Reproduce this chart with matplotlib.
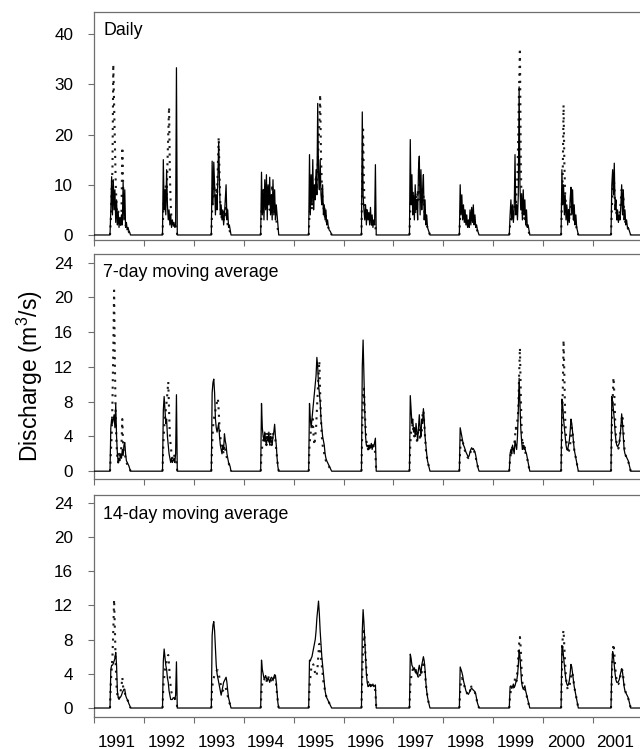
import matplotlib
matplotlib.use("Agg")
import matplotlib.pyplot as plt
from matplotlib.ticker import FixedLocator, NullFormatter, FixedFormatter

plt.rcParams['font.family'] = ['Liberation Sans', 'DejaVu Sans']
plt.rcParams['mathtext.fontset'] = 'custom'
plt.rcParams['mathtext.rm'] = 'Liberation Sans'
plt.rcParams['mathtext.it'] = 'Liberation Sans'

# ---------------- data ----------------
years = [1991, 1992, 1993, 1994, 1995, 1996, 1997, 1998, 1999, 2000, 2001]
year_labels = [str(y) for y in years]
season_start_doy = [117, 136, 128, 124, 110, 131, 117, 117, 117, 131, 131]
step_days = 6  # spacing of the read-off values within each flow season

panel_titles = ["Daily", "7-day moving average", "14-day moving average"]

daily_solid = [
    [0, 5, 11.6, 4, 11, 5, 9, 2.5, 7, 2, 4.5, 1.5, 3.5, 2, 4, 2, 10.5, 3, 9, 1.5, 2.5, 1, 1.5, 0.8, 0.5, 0],
    [0, 15, 5, 9, 4, 13, 6, 3, 5, 2, 4, 1.5, 3, 2, 2.5, 1.5, 2, 33.3, 0],
    [0, 14.7, 6, 14.5, 10, 4, 8, 5, 12, 18.5, 10, 4, 6, 3, 5, 2, 4, 7, 10, 3, 5, 1.5, 2, 1, 0],
    [0, 12.5, 4, 9, 3, 11, 5, 12, 3, 10, 6, 11.5, 4, 8, 3, 11, 4, 9, 3, 6, 4, 2, 0],
    [0, 16, 4, 12, 6, 15, 5, 10, 7, 13, 8, 26.2, 12, 9, 15, 8, 6, 10, 4, 6, 3, 5, 2, 3, 1.5, 1, 0.8, 0.5, 0],
    [0, 24.5, 8, 5, 3, 6, 2, 5, 3, 4.5, 2, 5.5, 2, 4, 1.5, 3, 2, 14, 0],
    [0, 19, 6, 12, 4, 8, 3, 10, 5, 7, 3, 13, 15.7, 4, 13, 5, 9, 12, 3, 7, 2, 4, 1.5, 1, 0.5, 0],
    [0, 10, 4, 8, 3, 6, 2.5, 5, 2, 4, 1.5, 3, 1.5, 5, 2, 5.5, 2.5, 6, 2, 4, 1.5, 2, 1, 0.5, 0],
    [0, 4, 7, 3, 6, 2.5, 5, 16, 4, 6, 3, 8, 29.5, 10, 5, 8, 3, 9, 4, 7, 2, 5, 1.5, 2, 1, 0],
    [0, 13, 6, 10, 4, 8, 3, 6, 2, 5, 2.5, 7, 9.5, 4, 9, 3, 6, 2, 4, 1.5, 0.8, 0],
    [0, 10, 13, 8, 14.3, 5, 7, 3, 5, 2.5, 4, 3, 6, 10, 4, 9, 3, 5, 2, 3, 1.5, 1.5, 1, 0.5, 0],
]
daily_dotted = [
    [0, 3, 9, 13, 34, 26, 18, 10, 6, 3, 5, 2, 3, 2, 4, 17.5, 10, 5, 3, 2, 1.5, 1, 1, 0.6, 0.3, 0],
    [0, 5, 8, 6, 10, 7, 14, 20, 25.5, 12, 6, 3, 2, 1.5, 2, 1.5, 2, 1, 0],
    [0, 5, 8, 10, 9, 7, 9, 8, 14, 19.5, 12, 6, 4, 3, 5, 3, 5, 4, 6, 3, 2, 1.5, 1, 0.5, 0],
    [0, 5, 7, 4, 9, 6, 8, 5, 10, 6, 9, 5, 7, 4, 10, 5, 8, 4, 6, 3, 2, 1, 0],
    [0, 4, 6, 8, 5, 9, 7, 8, 10, 12, 9, 14, 18, 22, 28, 16, 10, 7, 5, 6, 3, 4, 2, 2, 1.5, 1, 0.8, 0.5, 0],
    [0, 12, 21, 10, 6, 4, 5, 3, 4, 3, 4, 2.5, 3.5, 2, 3, 2, 2, 1.5, 0],
    [0, 5, 8, 6, 9, 5, 7, 4, 8, 6, 9, 7, 10, 8, 7, 9, 6, 8, 5, 4, 3, 2, 1.5, 1, 0.5, 0],
    [0, 4, 6, 5, 4, 5, 3, 4, 2.5, 3, 2, 2.5, 2, 3, 3.5, 3, 4, 3, 3, 2, 1.5, 1.2, 0.8, 0.4, 0],
    [0, 2, 3, 4, 3, 4, 5, 7, 6, 9, 12, 20, 30, 37.2, 15, 6, 4, 5, 3, 4, 2, 2, 1.5, 1, 0.5, 0],
    [0, 6, 12, 25.9, 14, 8, 6, 4, 3, 5, 3, 4, 6, 8, 5, 4, 3, 2.5, 2, 1.2, 0.6, 0],
    [0, 5, 9, 12, 10, 6, 5, 4, 3.5, 3, 4, 5, 7, 9, 6, 8, 4, 3, 2, 1.8, 1.5, 1.2, 1, 0.5, 0],
]

ma7_solid = [
    [0, 5, 6, 5.5, 6, 6.5, 5, 7.7, 4, 2, 1, 1.5, 1.2, 2, 1.5, 2.5, 1.8, 3, 3.3, 2, 1.2, 1, 0.8, 0.6, 0.3, 0],
    [0, 7, 8.6, 7, 5.5, 6, 4, 3, 2, 1.5, 1, 1.5, 1, 1.2, 1.5, 1, 2, 8.8, 0],
    [0, 9, 10.2, 10.6, 9, 6, 5, 4.5, 5, 5.5, 4, 3, 2.5, 2, 3, 2.5, 4.3, 3.5, 3, 2, 1.5, 1, 0.8, 0.5, 0],
    [0, 7.8, 5, 4, 3.5, 4.5, 3.5, 3, 4, 3.5, 4.5, 3, 4, 3.5, 3, 4, 4.5, 5.4, 4, 3, 1.5, 0.5, 0],
    [0, 7.8, 6, 5, 6, 7, 8, 9, 10, 11, 13.1, 12, 10, 9, 8, 6, 5, 4, 3.5, 3, 2, 1.5, 1.2, 1, 0.8, 0.6, 0.4, 0.2, 0],
    [0, 12, 15.1, 11, 7, 4, 3, 2.8, 3, 2.5, 3, 2.7, 3.2, 2.5, 3, 2.8, 3.3, 3.8, 0],
    [0, 8.7, 7, 5.5, 6, 4.5, 5, 4, 5.5, 4.5, 3.5, 5, 6.5, 5, 4, 6, 5.5, 7.2, 6, 4, 3, 2, 1.2, 0.8, 0.4, 0],
    [0, 5, 4.5, 4, 3.5, 3, 2.8, 2.5, 2.2, 2, 1.8, 1.6, 1.8, 2.2, 2.5, 2.7, 2.5, 2.6, 2.4, 2.2, 1.8, 1.2, 0.7, 0.3, 0],
    [0, 2, 2.5, 2, 3, 2.5, 2, 3.5, 3, 2.5, 4, 7, 10.7, 8, 5, 3.5, 2.5, 3, 2.5, 2.8, 2.2, 2, 1.5, 1, 0.5, 0],
    [0, 8.3, 7.5, 6, 5, 4, 3, 2.5, 2.5, 3, 3.5, 4.5, 6, 5.5, 4.5, 3.5, 2.5, 2, 1.5, 1, 0.5, 0],
    [0, 8.6, 8, 7, 6, 4.5, 3.5, 3, 2.8, 3, 3.2, 4, 5, 6.6, 5.5, 4, 2.5, 2, 1.8, 1.6, 1.4, 1.2, 0.8, 0.4, 0],
]
ma7_dotted = [
    [0, 2, 4, 8, 14, 20.8, 12, 6, 3, 1.5, 1, 2, 1.5, 2, 3, 6, 3, 2, 2, 1.5, 1, 0.8, 0.6, 0.5, 0.3, 0],
    [0, 3, 5, 6, 7, 8, 9, 10.3, 7, 4, 3, 2, 1.5, 1.5, 2, 1.5, 1.5, 1, 0],
    [0, 3, 5, 6, 6.5, 7, 7.5, 8, 8.4, 7, 5, 4, 3, 2.5, 2.5, 2, 3, 2.5, 2, 1.5, 1.2, 1, 0.6, 0.4, 0],
    [0, 2, 3, 3.5, 4, 3.5, 4.5, 3, 4.5, 4, 3.5, 3, 4.5, 3, 3.5, 4.5, 4, 4, 3.5, 2.5, 1.5, 0.5, 0],
    [0, 3, 4, 5, 5, 6, 4, 3, 4, 5, 7, 9, 11, 12.7, 9, 6, 4, 3, 2.5, 2, 1.5, 1.2, 1, 0.8, 0.6, 0.5, 0.3, 0.2, 0],
    [0, 5, 9, 9.5, 7, 5, 3.5, 3, 2.5, 3, 2.5, 3, 2.5, 2.8, 3, 2.5, 2.5, 2, 0],
    [0, 3, 4.5, 5, 5.5, 4.5, 4, 5, 4.5, 3.5, 4, 5, 4.5, 3.5, 5, 4.5, 6.5, 7, 5.5, 4, 2.5, 1.8, 1.2, 0.8, 0.4, 0],
    [0, 2.5, 3.5, 3.8, 3.5, 3, 2.6, 2.3, 2, 1.8, 1.6, 1.5, 1.7, 2, 2.3, 2.5, 2.6, 2.4, 2.3, 2, 1.6, 1.1, 0.7, 0.3, 0],
    [0, 1.5, 2, 2.5, 3, 2.5, 3, 4, 5, 4.5, 6, 7, 11, 14.2, 9, 5, 3, 3.5, 2.5, 2.5, 2, 1.8, 1.4, 0.8, 0.4, 0],
    [0, 4, 9, 15.1, 11, 6, 4, 3, 2.5, 2, 2.5, 3, 4, 5, 4.5, 3.5, 2.5, 2, 1.5, 1, 0.5, 0],
    [0, 5, 8, 10.8, 9, 6, 4, 3, 2.8, 2.6, 3, 4, 5, 6, 6.5, 5, 3, 2.2, 1.8, 1.5, 1.3, 1.1, 0.8, 0.4, 0],
]

ma14_solid = [
    [0, 4.5, 5, 5, 5.2, 5.5, 5.8, 6.5, 5, 2, 1.2, 1, 1.2, 1.3, 1.5, 1.8, 2, 2.2, 2.2, 1.5, 1.2, 1, 0.8, 0.5, 0.3, 0],
    [0, 5.5, 6.9, 6, 5, 4.5, 3.5, 3, 2, 1.5, 1, 1, 1, 1.2, 1.2, 1, 1.5, 5.4, 0],
    [0, 8.5, 9.7, 10.1, 9, 7, 5, 4, 3.5, 3, 2.5, 2, 1.5, 2, 2.5, 3, 3.2, 3.4, 3.6, 3, 2, 1.2, 0.8, 0.4, 0],
    [0, 5.6, 4.5, 4, 3.5, 3.5, 3.8, 3.5, 3.2, 3.5, 3.3, 3, 3.4, 3.6, 3.5, 3.2, 3.6, 3.9, 3.8, 3, 1.8, 0.6, 0],
    [0, 5.6, 5.5, 5.8, 6, 6.5, 7, 7.5, 8, 9, 10.5, 11.5, 12.5, 11, 9, 7.5, 6, 5, 4, 3, 2, 1.5, 1.2, 1, 0.8, 0.6, 0.4, 0.2, 0],
    [0, 9, 11.5, 10, 8, 6, 4, 3, 2.5, 2.6, 2.8, 2.5, 2.7, 2.6, 2.8, 2.5, 2.6, 2.7, 0],
    [0, 6.3, 5.8, 5, 4.8, 4.5, 4.7, 4.2, 4.5, 4, 3.8, 4.5, 5, 4.5, 4, 5, 5.5, 6, 5.5, 4.5, 3, 2, 1.3, 0.8, 0.4, 0],
    [0, 4.8, 4.5, 4.2, 3.8, 3.2, 2.8, 2.4, 2, 1.8, 1.7, 1.6, 1.8, 2, 2.2, 2.3, 2.2, 2.1, 2, 1.9, 1.6, 1.1, 0.6, 0.3, 0],
    [0, 2.5, 2.6, 2.3, 2.5, 2.8, 2.4, 2.6, 3, 3.2, 3.8, 5, 6.8, 6, 4.5, 3, 2.5, 2.2, 2.4, 2.6, 2, 1.6, 1.2, 0.8, 0.4, 0],
    [0, 7.3, 7, 6, 5, 4, 3.2, 2.8, 2.6, 2.8, 3.2, 4, 5.1, 4.8, 4, 3.2, 2.5, 2, 1.5, 1, 0.5, 0],
    [0, 5, 6.6, 6, 5, 4, 3.3, 3, 3, 3.1, 3.3, 3.8, 4.2, 4.6, 4.2, 3.3, 2.5, 2, 1.8, 1.6, 1.4, 1.2, 0.8, 0.4, 0],
]
ma14_dotted = [
    [0, 3, 4.5, 6, 9, 12.7, 9, 5, 2.5, 1.5, 1, 1.2, 1.5, 2, 2.5, 3.6, 2.5, 2, 1.8, 1.5, 1.2, 1, 0.8, 0.5, 0.3, 0],
    [0, 2.5, 3.5, 4.5, 5, 5.5, 6, 6.2, 5, 3.5, 2.5, 1.8, 1.5, 1.3, 1.2, 1.1, 1, 0.8, 0],
    [0, 2.5, 3, 3.5, 4, 4.2, 4.3, 4.4, 4.4, 4, 3.5, 3, 2.5, 2.2, 2, 2.2, 2.5, 2.5, 2.2, 1.8, 1.4, 1, 0.6, 0.4, 0],
    [0, 2, 3, 3.3, 3.2, 3.5, 3.4, 3, 3.6, 3.8, 3.4, 3.2, 3, 3.3, 3.6, 3.5, 3.4, 3.6, 3.4, 2.6, 1.6, 0.6, 0],
    [0, 2.5, 3.5, 4.5, 5, 5.2, 5, 4.5, 4, 3.7, 4, 5, 6.5, 7.5, 7, 6, 5, 4, 3, 2.5, 2, 1.5, 1.2, 1, 0.8, 0.6, 0.4, 0.2, 0],
    [0, 4, 7, 9, 8, 6, 4.5, 3.5, 3, 2.6, 2.5, 2.7, 2.6, 2.5, 2.6, 2.4, 2.3, 2, 0],
    [0, 2.5, 3.5, 4.2, 4.5, 4.3, 4.2, 4, 4.2, 3.8, 3.5, 3.8, 4.2, 3.8, 3.6, 4.2, 5, 5.5, 5, 4, 2.8, 2, 1.3, 0.8, 0.4, 0],
    [0, 2, 3, 3.5, 3.3, 3, 2.6, 2.3, 2, 1.8, 1.6, 1.5, 1.7, 2, 2.7, 2.3, 2.2, 2.1, 2, 1.8, 1.5, 1, 0.6, 0.3, 0],
    [0, 1.5, 2, 2.2, 2.5, 2.4, 2.6, 3.5, 3, 3.2, 4.5, 6, 7.5, 8.3, 7, 4.5, 3, 2.5, 2.2, 2.2, 1.8, 1.5, 1.1, 0.7, 0.3, 0],
    [0, 4, 8.5, 9.1, 7, 5, 3.5, 2.6, 2.2, 2.2, 2.5, 3, 3.6, 4.2, 4, 3.3, 2.5, 2, 1.5, 1, 0.5, 0],
    [0, 3.5, 6, 7.5, 6.5, 5, 3.8, 3.2, 2.8, 2.8, 3, 3.5, 4, 4.5, 4.4, 3.6, 2.8, 2.2, 1.8, 1.5, 1.3, 1.1, 0.8, 0.4, 0],
]

y_limits = [(-1.0, 44.4), (-0.9, 25.0), (-1.05, 24.9)]
y_ticks = [[0, 10, 20, 30, 40], [0, 4, 8, 12, 16, 20, 24], [0, 4, 8, 12, 16, 20, 24]]

# ---------------- helpers ----------------
def season_times(yr, start, n):
    return [yr + (start + step_days * i) / 365.0 for i in range(n)]


def full_series(seasons):
    t = [float(years[0])]
    v = [0.0]
    for yr, start, vals in zip(years, season_start_doy, seasons):
        t.extend(season_times(yr, start, len(vals)))
        v.extend(vals)
    t.append(float(years[-1] + 1))
    v.append(0.0)
    return t, v


# ---------------- figure ----------------
W, H = 640, 749
fig = plt.figure(figsize=(W / 100, H / 100), dpi=100)

panel_px = [(12, 240), (254, 479), (495, 717)]  # top, bottom in pixels
left_px, right_px = 94, 643

series = [(daily_solid, daily_dotted), (ma7_solid, ma7_dotted), (ma14_solid, ma14_dotted)]
spine_col = "#6e6e6e"

for k, ((top, bot), (solid, dotted)) in enumerate(zip(panel_px, series)):
    ax = fig.add_axes([left_px / W, 1 - bot / H, (right_px - left_px) / W, (bot - top) / H])
    # dotted series, per season
    for yr, start, vals in zip(years, season_start_doy, dotted):
        ax.plot(season_times(yr, start, len(vals)), vals, color="#1a1a1a",
                lw=1.5, linestyle=(0, (1.0, 2.6)), dash_capstyle="butt", zorder=2)
    t, v = full_series(solid)
    ax.plot(t, v, color="black", lw=0.9, zorder=3)

    ax.set_xlim(years[0], years[-1] + 1)
    ax.set_ylim(*y_limits[k])
    ax.set_yticks(y_ticks[k])
    ax.xaxis.set_major_locator(FixedLocator(list(range(years[0], years[-1] + 2))))
    ax.xaxis.set_major_formatter(NullFormatter())
    if k == 2:
        ax.xaxis.set_minor_locator(FixedLocator([y + 0.45 for y in years]))
        ax.xaxis.set_minor_formatter(FixedFormatter(year_labels))
    ax.tick_params(axis="x", which="major", direction="out", length=4, width=0.8,
                   color=spine_col)
    ax.tick_params(axis="x", which="minor", length=0, pad=13, labelsize=12.3)
    ax.tick_params(axis="y", direction="out", length=4, width=0.8, color=spine_col,
                   pad=11, labelsize=12.3)
    for s in ["left", "top", "bottom"]:
        ax.spines[s].set_color(spine_col)
        ax.spines[s].set_linewidth(0.9)
    ax.spines["right"].set_visible(False)
    ax.text(0.0165, [0.921, 0.916, 0.914][k], panel_titles[k], transform=ax.transAxes,
            fontsize=12.8, va="center", ha="left")

fig.text(0.047, 1 - 376 / H, "Discharge (m$^{3}$/s)", rotation=90, ha="center",
         va="center", fontsize=16.5)

fig.savefig("out.png", dpi=100)
